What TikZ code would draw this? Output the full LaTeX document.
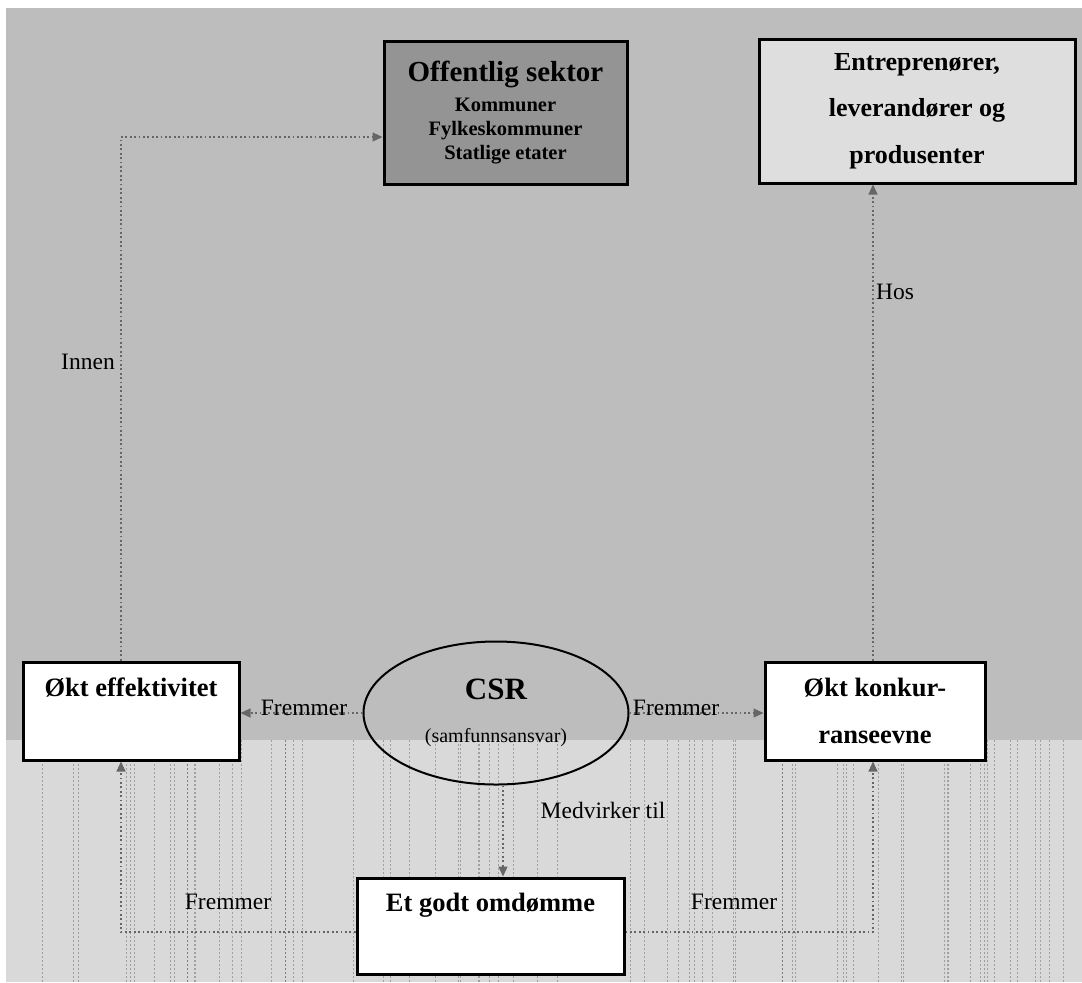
\documentclass[tikz,border=0pt]{standalone}
\usepackage{fontspec}
\setmainfont{Liberation Serif}
\usetikzlibrary{arrows.meta,shapes.geometric}
\definecolor{bgtop}{gray}{0.74}
\definecolor{bglow}{gray}{0.85}
\definecolor{darkfill}{gray}{0.58}
\definecolor{lightfill}{gray}{0.87}
\definecolor{linkgray}{gray}{0.40}
\begin{document}
\begin{tikzpicture}[x=0.5pt,y=-0.5pt,
  box/.style={draw=black,line width=1.5pt,fill=white,align=center,inner sep=0pt,
    font=\bfseries\fontsize{13.25}{23.5}\selectfont},
  conn/.style={draw=linkgray,line width=0.6pt,dash pattern=on 0.9pt off 1.3pt,
    -{Triangle[length=5pt,width=4.5pt,fill=linkgray]}},
  lbl/.style={font=\fontsize{11.75}{14}\selectfont,inner sep=0pt},
  stripe/.style={gray!70!black,line width=0.35pt,dash pattern=on 1pt off 1pt,opacity=0.45}]

% page and backdrop
\useasboundingbox (0,0) rectangle (1082,982);
\fill[white] (0,0) rectangle (1082,982);
\fill[bgtop] (6,8) rectangle (1082,740);
\fill[bglow] (6,740) rectangle (1082,982);
\pgfmathsetseed{7}
\foreach \i in {1,...,70}{
  \pgfmathsetmacro\sx{8+1072*rnd}
  \draw[stripe] (\sx,740) -- (\sx,982);
}

% boxes
\node[box,fill=darkfill,minimum width=121.5pt,minimum height=71.5pt,
  font=\bfseries\fontsize{10.25}{12}\selectfont] (off) at (505.5,112.5)
  {{\fontsize{14.5}{15}\selectfont Offentlig sektor}\\[3pt]Kommuner\\Fylkeskommuner\\Statlige etater};
\node[box,fill=lightfill,minimum width=158pt,minimum height=72pt,
  font=\bfseries\fontsize{13}{23.25}\selectfont] (ent) at (917,111)
  {Entreprenører,\\leverandører og\\produsenter};
\node[box,minimum width=108pt,minimum height=49pt] (eff) at (131,711)
  {Økt effektivitet\\\phantom{X}};
\node[box,minimum width=110pt,minimum height=49pt] (kon) at (875,711)
  {Økt konkur-\\ranseevne};
\node[box,minimum width=133.5pt,minimum height=48pt] (omd) at (490.5,926)
  {Et godt omdømme\\\phantom{X}};
\node[draw=black,line width=1pt,ellipse,minimum width=132.5pt,minimum height=71.5pt,
  inner sep=0pt,align=center] (csr) at (496,713)
  {{\bfseries\fontsize{15.5}{16}\selectfont CSR}\\[9.5pt]{\fontsize{10}{12}\selectfont (samfunnsansvar)}};

% bend points of the connectors
\coordinate (ic) at (121,137);
\coordinate (hx) at (873,0);
\coordinate (mx) at (503,0);
\coordinate (bl) at (121,932);
\coordinate (br) at (873,932);

% connectors
\draw[conn] (eff.north -| ic) -- (ic) -- (off.west |- ic);
\draw[conn] (kon.north -| hx) -- (ent.south -| hx);
\draw[conn] (csr.west) -- (eff.east |- csr.west);
\draw[conn] (csr.east) -- (kon.west |- csr.east);
\draw[conn] (csr.south -| mx) -- (omd.north -| mx);
\draw[conn] (omd.west |- bl) -- (bl) -- (eff.south -| bl);
\draw[conn] (omd.east |- br) -- (br) -- (kon.south -| br);

% labels
\node[lbl] (innen) at (88,362) {Innen};
\node[lbl] (hos) at (895,292) {Hos};
\node[lbl] (fl) at (304,708) {Fremmer};
\node[lbl] (fr) at (676,708) {Fremmer};
\node[lbl] (med) at (603,810) {Medvirker til};
\node[lbl] (fbl) at (228,902) {Fremmer};
\node[lbl] (fbr) at (734,902) {Fremmer};
\end{tikzpicture}
\end{document}
